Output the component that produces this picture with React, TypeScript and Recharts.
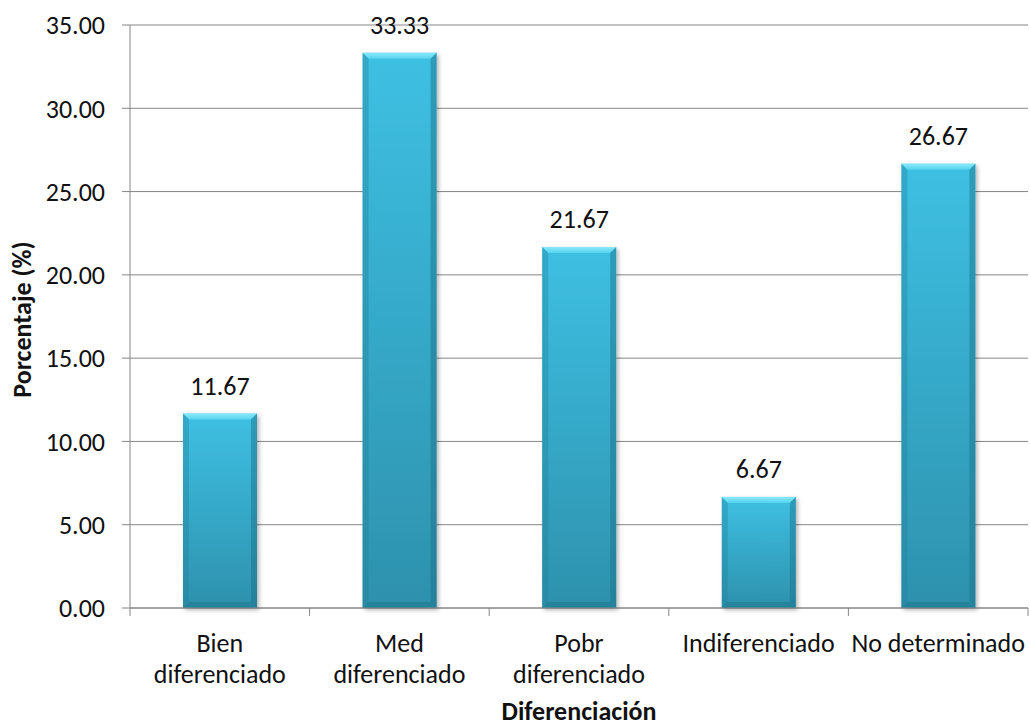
import React from "react";
import {
  BarChart,
  Bar,
  XAxis,
  YAxis,
  CartesianGrid,
  LabelList,
} from "recharts";

// diferenciación tumoral, porcentaje de casos
const categories = [
  "Bien\ndiferenciado",
  "Med\ndiferenciado",
  "Pobr\ndiferenciado",
  "Indiferenciado",
  "No determinado",
];
const percentages = [11.67, 33.33, 21.67, 6.67, 26.67];
const yTicks = [0, 5, 10, 15, 20, 25, 30, 35];

const data = categories.map((name, i) => ({ name, value: percentages[i] }));

const FONT = "Carlito, Calibri, 'Open Sans', sans-serif";
const GRID = "#868686";
const TEXT_SIZE = 26;

// bar with bevelled edges and a soft drop shadow
function BevelBar(props: any) {
  const { x, y, width: w, height: h, index } = props;
  if (!h || h <= 0) return null;
  const b = Math.min(6, h / 2);
  const gid = `barFill${index}`;
  const tid = `barTop${index}`;
  const fid = `barShadow${index}`;
  return (
    <g>
      <defs>
        <linearGradient id={gid} x1="0" y1="0" x2="0" y2="1">
          <stop offset="0%" stopColor="#3ec0e3" />
          <stop offset="100%" stopColor="#2d91ad" />
        </linearGradient>
        <linearGradient id={tid} x1="0" y1="0" x2="0" y2="1">
          <stop offset="0%" stopColor="#8aeaf9" />
          <stop offset="100%" stopColor="#55d2ef" />
        </linearGradient>
        <filter id={fid} x="-20%" y="-10%" width="140%" height="120%">
          <feDropShadow dx="2" dy="2" stdDeviation="2" floodColor="#000" floodOpacity="0.3" />
        </filter>
      </defs>
      <rect x={x} y={y} width={w} height={h} fill={`url(#${gid})`} filter={`url(#${fid})`} />
      <polygon
        points={`${x},${y} ${x + w},${y} ${x + w - b},${y + b} ${x + b},${y + b}`}
        fill={`url(#${tid})`}
      />
      <polygon
        points={`${x},${y} ${x + b},${y + b} ${x + b},${y + h - b} ${x},${y + h}`}
        fill="#1f7f99"
        fillOpacity={0.35}
      />
      <polygon
        points={`${x + w},${y} ${x + w - b},${y + b} ${x + w - b},${y + h - b} ${x + w},${y + h}`}
        fill="#1a6f86"
        fillOpacity={0.45}
      />
      <polygon
        points={`${x},${y + h} ${x + b},${y + h - b} ${x + w - b},${y + h - b} ${x + w},${y + h}`}
        fill="#1b7089"
        fillOpacity={0.45}
      />
    </g>
  );
}

// category label, split over lines, with tick marks on the band edges
function CategoryTick(props: any) {
  const { x, y, payload, index, width, visibleTicksCount } = props;
  const count = visibleTicksCount || categories.length;
  const band = width / count;
  const lines = String(payload.value).split("\n");
  return (
    <g>
      <line x1={x - band / 2} y1={y} x2={x - band / 2} y2={y + 8} stroke={GRID} />
      {index === count - 1 && (
        <line x1={x + band / 2} y1={y} x2={x + band / 2} y2={y + 8} stroke={GRID} />
      )}
      <text
        x={x}
        y={y}
        textAnchor="middle"
        fontFamily={FONT}
        fontSize={TEXT_SIZE}
        fill="#111"
      >
        {lines.map((ln, i) => (
          <tspan key={i} x={x} dy={i === 0 ? 44 : 31}>
            {ln}
          </tspan>
        ))}
      </text>
    </g>
  );
}

function YTitle(props: any) {
  const { viewBox } = props;
  const cx = viewBox.x + 22;
  const cy = viewBox.y + viewBox.height / 2 + 3;
  return (
    <text
      x={cx}
      y={cy}
      transform={`rotate(-90 ${cx} ${cy})`}
      textAnchor="middle"
      dominantBaseline="central"
      fontFamily={FONT}
      fontWeight="bold"
      fontSize={TEXT_SIZE}
      fill="#111"
    >
      Porcentaje (%)
    </text>
  );
}

function XTitle(props: any) {
  const { viewBox } = props;
  return (
    <text
      x={viewBox.x + viewBox.width / 2}
      y={viewBox.y + 112}
      textAnchor="middle"
      fontFamily={FONT}
      fontWeight="bold"
      fontSize={TEXT_SIZE}
      fill="#111"
    >
      Diferenciación
    </text>
  );
}

export default function App() {
  return (
    <div style={{ position: "absolute", left: 0, top: 0, background: "#fff" }}>
      <BarChart
        width={1030}
        height={727}
        data={data}
        margin={{ top: 25, right: 2, bottom: 0, left: 0 }}
      >
        <CartesianGrid vertical={false} stroke={GRID} />
        <XAxis
          dataKey="name"
          height={119}
          stroke={GRID}
          tickLine={false}
          tickSize={0}
          tickMargin={0}
          interval={0}
          tick={<CategoryTick />}
          label={<XTitle />}
        />
        <YAxis
          width={130}
          domain={[0, 35]}
          ticks={yTicks}
          interval={0}
          stroke={GRID}
          tickSize={8}
          tickMargin={17}
          tickFormatter={(v: number) => v.toFixed(2)}
          tick={{ fontFamily: FONT, fontSize: TEXT_SIZE, fill: "#111" }}
          label={<YTitle />}
        />
        <Bar dataKey="value" barSize={74} shape={<BevelBar />} isAnimationActive={false}>
          <LabelList
            dataKey="value"
            position="top"
            offset={19}
            formatter={(v: number) => v.toFixed(2)}
            style={{ fontFamily: FONT, fontSize: TEXT_SIZE, fill: "#111" }}
          />
        </Bar>
      </BarChart>
    </div>
  );
}
